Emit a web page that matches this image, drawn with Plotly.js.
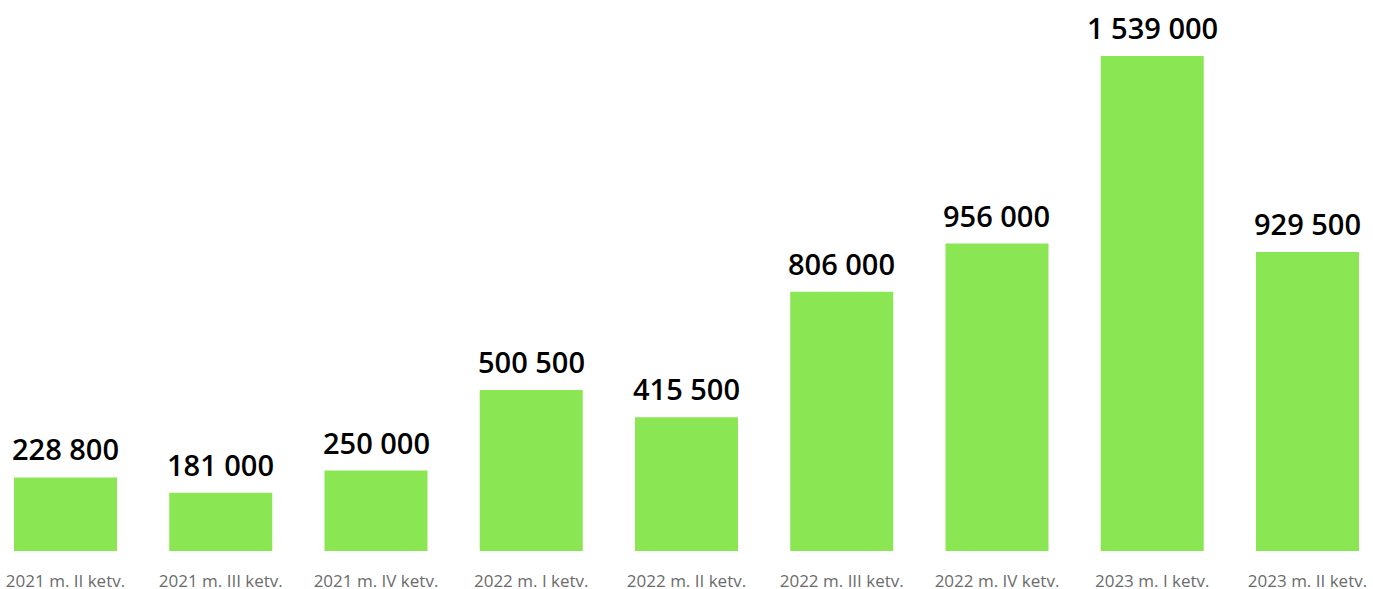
<!DOCTYPE html>
<html>
<head>
<meta charset="utf-8">
<script src="https://cdn.plot.ly/plotly-3.0.1.min.js"></script>
<style>html,body{margin:0;padding:0;background:#fff;}#chart{width:1373px;height:589px;}</style>
</head>
<body>
<div id="chart"></div>
<script>
const categories = ["2021 m. II ketv.", "2021 m. III ketv.", "2021 m. IV ketv.", "2022 m. I ketv.", "2022 m. II ketv.", "2022 m. III ketv.", "2022 m. IV ketv.", "2023 m. I ketv.", "2023 m. II ketv."];
const values = [228800, 181000, 250000, 500500, 415500, 806000, 956000, 1539000, 929500];

function fmt(v) {
  return String(v).replace(/\B(?=(\d{3})+(?!\d))/g, " ");
}

const trace = {
  type: "bar",
  x: categories,
  y: values,
  marker: { color: "#8be654" },
  hoverinfo: "none"
};

const annotations = categories.map((c, i) => ({
  x: c,
  y: values[i],
  xref: "x",
  yref: "y",
  text: fmt(values[i]),
  showarrow: false,
  yanchor: "bottom",
  yshift: 7,
  font: { family: "Open Sans", size: 29, color: "#000000", weight: 600 }
}));

const layout = {
  width: 1373,
  height: 589,
  margin: { l: 0, r: 0, t: 0, b: 38, pad: 0 },
  paper_bgcolor: "#ffffff",
  plot_bgcolor: "#ffffff",
  showlegend: false,
  bargap: 0.3365,
  xaxis: {
    type: "category",
    range: [-0.4219, 8.422],
    showgrid: false,
    zeroline: false,
    showline: false,
    ticks: "",
    ticklabelstandoff: 18,
    tickfont: { family: "Open Sans", size: 17, color: "#6b6b6b" },
    automargin: false
  },
  yaxis: {
    range: [0, 1713000],
    showgrid: false,
    zeroline: false,
    showline: false,
    showticklabels: false,
    ticks: ""
  },
  annotations: annotations
};

Plotly.newPlot("chart", [trace], layout, { displayModeBar: false, staticPlot: true });
</script>
</body>
</html>
